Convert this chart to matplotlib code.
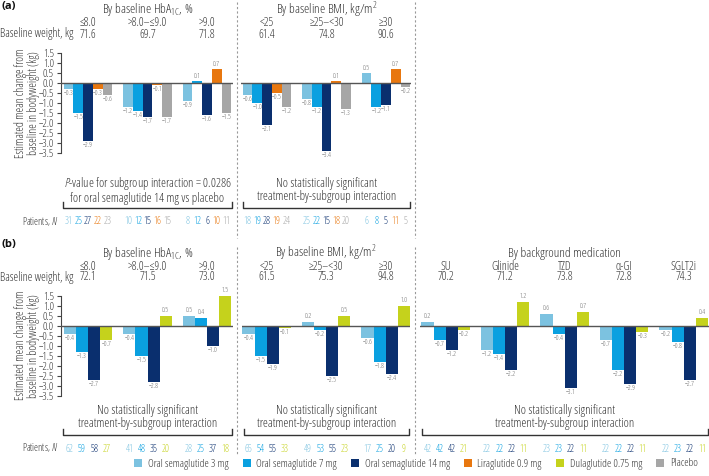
import numpy as np
import matplotlib
matplotlib.use("Agg")
import matplotlib.pyplot as plt
from matplotlib.patches import Patch
from matplotlib.lines import Line2D
import matplotlib.transforms as mtransforms

plt.rcParams['font.family'] = ['Open Sans', 'DejaVu Sans']
plt.rcParams['font.stretch'] = 'condensed'
plt.rcParams['mathtext.fontset'] = 'custom'
plt.rcParams['mathtext.rm'] = 'Open Sans'
plt.rcParams['mathtext.it'] = 'Open Sans:italic'

# ---- series ----
C_3MG = '#7cc2e0'
C_7MG = '#0aa0e0'
C_14MG = '#0a2f6e'
C_LIRA = '#e8770f'
C_DULA = '#c5d21c'
C_PBO = '#a6a6a6'
TXT = '#333333'

# ---- panel (a) data: 3 mg, 7 mg, 14 mg, liraglutide, placebo ----
a_hba1c_cats = ['≤8.0', '>8.0–≤9.0', '>9.0']
a_hba1c_weight = ['71.6', '69.7', '71.8']
a_hba1c_vals = [[-0.3, -1.5, -2.9, -0.3, -0.6],
                [-1.2, -1.4, -1.7, -0.1, -1.7],
                [-0.9, 0.1, -1.6, 0.7, -1.5]]
a_hba1c_n = [[31, 25, 27, 22, 23], [10, 12, 15, 16, 15], [8, 12, 6, 10, 11]]

a_bmi_cats = ['<25', '≥25–<30', '≥30']
a_bmi_weight = ['61.4', '74.8', '90.6']
a_bmi_vals = [[-0.6, -1.0, -2.1, -0.5, -1.2],
              [-0.8, -1.2, -3.4, 0.1, -1.3],
              [0.5, -1.2, -1.1, 0.7, -0.2]]
a_bmi_n = [[18, 19, 28, 19, 24], [25, 22, 15, 18, 20], [6, 8, 5, 11, 5]]

# ---- panel (b) data: 3 mg, 7 mg, 14 mg, dulaglutide ----
b_hba1c_cats = ['≤8.0', '>8.0–≤9.0', '>9.0']
b_hba1c_weight = ['72.1', '71.5', '73.0']
b_hba1c_vals = [[-0.4, -1.3, -2.7, -0.7],
                [-0.4, -1.5, -2.8, 0.5],
                [0.5, 0.4, -1.0, 1.5]]
b_hba1c_n = [[62, 59, 58, 27], [41, 48, 35, 20], [28, 25, 37, 18]]

b_bmi_cats = ['<25', '≥25–<30', '≥30']
b_bmi_weight = ['61.5', '75.3', '94.8']
b_bmi_vals = [[-0.4, -1.5, -1.9, -0.1],
              [0.2, -0.2, -2.5, 0.5],
              [-0.6, -1.8, -2.4, 1.0]]
b_bmi_n = [[65, 54, 55, 33], [49, 53, 55, 23], [17, 25, 20, 9]]

b_med_cats = ['SU', 'Glinide', 'TZD', 'α-GI', 'SGLT2i']
b_med_weight = ['70.2', '71.2', '73.8', '72.8', '74.3']
b_med_vals = [[0.2, -0.7, -1.2, -0.2],
              [-1.2, -1.4, -2.2, 1.2],
              [0.6, -0.4, -3.1, 0.7],
              [-0.7, -2.2, -2.9, -0.3],
              [-0.2, -0.8, -2.7, 0.4]]
b_med_n = [[42, 42, 42, 21], [22, 22, 22, 11], [23, 23, 22, 11],
           [22, 22, 22, 11], [22, 23, 22, 11]]

a_colors = [C_3MG, C_7MG, C_14MG, C_LIRA, C_PBO]
b_colors = [C_3MG, C_7MG, C_14MG, C_DULA]
legend_labels = ['Oral semaglutide 3 mg', 'Oral semaglutide 7 mg', 'Oral semaglutide 14 mg',
                 'Liraglutide 0.9 mg', 'Dulaglutide 0.75 mg', 'Placebo']
legend_colors = [C_3MG, C_7MG, C_14MG, C_LIRA, C_DULA, C_PBO]

W, H = 709, 476
GP = 59.5  # pixels between group centres

fig = plt.figure(figsize=(W / 100, H / 100), dpi=100)


def fx(px):
    return px / W


def fy(py):
    return 1 - py / H


def fmt(v):
    return f"{v:.1f}".replace('-', '\u2212')


def section(x0, x1, c0, ytop, ybot, vals, colors, cats, weights, npat,
            title, title_y, bottom_text, text_y, yaxis=False):
    xlim = ((x0 - c0) / GP, (x1 - c0) / GP)
    ax = fig.add_axes([fx(x0), fy(ybot), (x1 - x0) / W, (ybot - ytop) / H])
    ax.set_xlim(*xlim)
    ax.set_ylim(-3.5, 1.5)
    vals = np.array(vals)
    ng, ns = vals.shape
    w = 0.815 / ns
    for s in range(ns):
        xs = np.arange(ng) + (s - (ns - 1) / 2) * w
        ax.bar(xs, vals[:, s], width=w, color=colors[s], zorder=2)
        for x, v in zip(xs, vals[:, s]):
            off = 1.0 if v > 0 else -1.0
            ax.annotate(fmt(v), (x, v), xytext=(0, off), textcoords='offset points',
                        ha='center', va='bottom' if v > 0 else 'top',
                        fontsize=5, color='#666666', annotation_clip=False)
    ax.axhline(0, color='#555555', lw=1.0, zorder=3)
    ax.set_xticks([])
    for sp in ['top', 'right', 'bottom']:
        ax.spines[sp].set_visible(False)
    if yaxis:
        ax.spines['left'].set_bounds(-3.5, 1.5)
        ax.spines['left'].set_color('#444444')
        ax.spines['left'].set_linewidth(0.8)
        ticks = np.arange(-3.5, 1.51, 0.5)
        ax.set_yticks(ticks)
        ax.set_yticklabels([fmt(t) for t in ticks])
        ax.tick_params(axis='y', length=3, width=0.8, color='#444444',
                       labelsize=7.8, labelcolor=TXT, pad=2)
    else:
        ax.spines['left'].set_visible(False)
        ax.set_yticks([])
    ax.patch.set_alpha(0)

    tr = mtransforms.blended_transform_factory(ax.transData, fig.transFigure)
    mid = (ng - 1) / 2
    fig.text(mid, fy(title_y), title, transform=tr, fontsize=9.5, color=TXT,
             ha='center', va='center')
    for g in range(ng):
        fig.text(g, fy(title_y + 13), cats[g], transform=tr, fontsize=8.6,
                 color=TXT, ha='center', va='center')
        fig.text(g, fy(title_y + 24), weights[g], transform=tr, fontsize=8.6,
                 color=TXT, ha='center', va='center')
        for s in range(ns):
            x = g + (s - (ns - 1) / 2) * w
            fig.text(x, fy(text_y + 32), str(npat[g][s]), transform=tr,
                     fontsize=7.1, color=colors[s], ha='center', va='center')
    fig.text(mid, fy(text_y), bottom_text, transform=tr, fontsize=9.0, color=TXT,
             ha='center', va='center', linespacing=1.08)
    # bracket
    bx0, bx1 = xlim[0] + 0.04, xlim[1] - 0.02
    yb, yt = fy(text_y + 18), fy(text_y + 12)
    line = Line2D([bx0, bx0, bx1, bx1], [yt, yb, yb, yt], transform=tr,
                  color='#333333', lw=1.0)
    fig.add_artist(line)
    return ax


PA_TOP, PA_BOT = 53.3, 152.7
PB_TOP, PB_BOT = 295.7, 395.7

sig_a = '$P$-value for subgroup interaction = 0.0286\nfor oral semaglutide 14 mg vs placebo'
no_sig = 'No statistically significant\ntreatment-by-subgroup interaction'
hba_title = 'By baseline HbA$_{\\mathregular{1C}}$, %'
bmi_title = 'By baseline BMI, kg/m$^{\\mathregular{2}}$'

section(60.7, 233, 88, PA_TOP, PA_BOT, a_hba1c_vals, a_colors, a_hba1c_cats,
        a_hba1c_weight, a_hba1c_n, hba_title, 10, sig_a, 190, yaxis=True)
section(241, 410.7, 267, PA_TOP, PA_BOT, a_bmi_vals, a_colors, a_bmi_cats,
        a_bmi_weight, a_bmi_n, bmi_title, 10, no_sig, 190)

section(60.7, 233, 88, PB_TOP, PB_BOT, b_hba1c_vals, b_colors, b_hba1c_cats,
        b_hba1c_weight, b_hba1c_n, hba_title, 253, no_sig, 417, yaxis=True)
section(241.7, 410, 266.7, PB_TOP, PB_BOT, b_bmi_vals, b_colors, b_bmi_cats,
        b_bmi_weight, b_bmi_n, bmi_title, 253, no_sig, 417)
section(420, 709, 445.7, PB_TOP, PB_BOT, b_med_vals, b_colors, b_med_cats,
        b_med_weight, b_med_n, 'By background medication', 253, no_sig, 417)

# panel letters, row labels
fig.text(fx(2), fy(7), '(a)', fontsize=8, fontweight='bold', fontstretch='normal',
         color='#111111', va='center')
fig.text(fx(2), fy(245), '(b)', fontsize=8, fontweight='bold', fontstretch='normal',
         color='#111111', va='center')
for yy in (34, 277):
    fig.text(fx(0), fy(yy), 'Baseline weight, kg', fontsize=8.6, color=TXT, va='center')
for yy in (222, 448):
    fig.text(fx(58), fy(yy), 'Patients, $N$', fontsize=7.1, color=TXT, va='center', ha='right')
for yc in ((PA_TOP + PA_BOT) / 2, (PB_TOP + PB_BOT) / 2):
    fig.text(fx(27), fy(yc), 'Estimated mean change from\nbaseline in bodyweight (kg)',
             rotation=90, fontsize=8.4, color=TXT, ha='center', va='center',
             linespacing=1.05)

# dashed dividers
for xd in (237, 415):
    for y0, y1 in ((2, 238), (247, 455)):
        fig.add_artist(Line2D([fx(xd), fx(xd)], [fy(y0), fy(y1)], color='#999999',
                              lw=0.8, linestyle=(0, (2, 2))))

handles = [Patch(facecolor=c, edgecolor='none') for c in legend_colors]
fig.legend(handles, legend_labels, loc='center', bbox_to_anchor=(fx(416), fy(464)),
           ncol=6, frameon=False, fontsize=8.0, handlelength=0.7, handleheight=0.7,
           handletextpad=0.5, columnspacing=1.3, labelcolor=TXT)

fig.savefig('out.png', dpi=100)
